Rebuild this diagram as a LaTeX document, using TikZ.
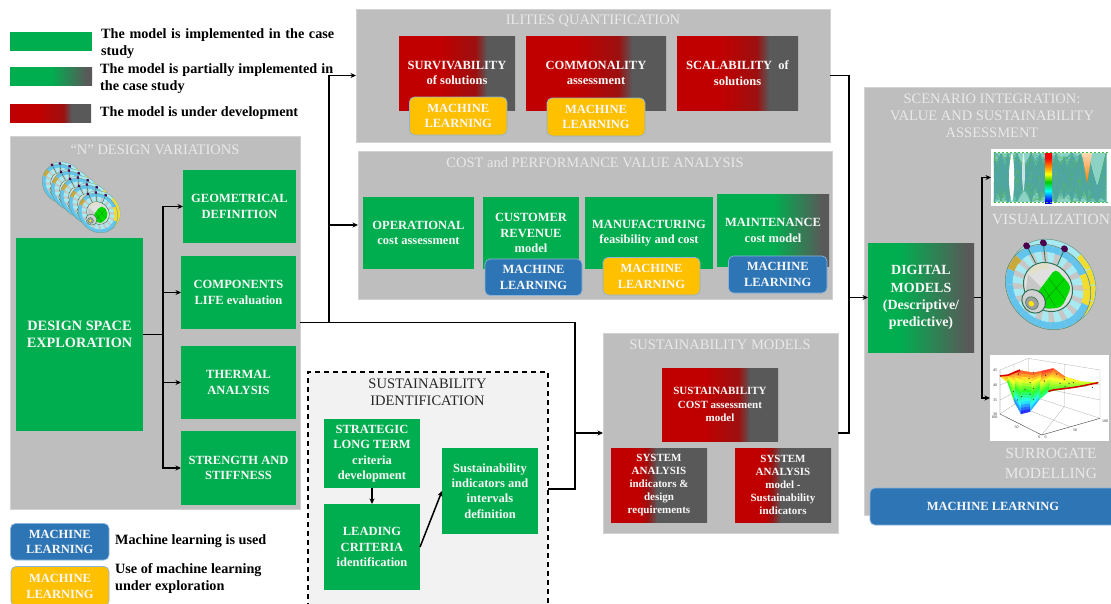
\documentclass[tikz,border=0pt]{standalone}
\usepackage{fontspec}
\setmainfont{Liberation Serif}
\usetikzlibrary{arrows.meta}
\definecolor{bgreen}{HTML}{00AE4F}
\definecolor{bred}{HTML}{C00000}
\definecolor{bdark}{HTML}{9C1010}
\definecolor{bgrey}{HTML}{595959}
\definecolor{bblue}{HTML}{2E75B6}
\definecolor{byellow}{HTML}{FFC000}
\definecolor{panelc}{HTML}{BEBEBE}
\definecolor{panelb}{HTML}{D2D2D2}
\definecolor{soft}{HTML}{F7F7F7}
\definecolor{titlec}{HTML}{E9E9E9}
\definecolor{wdark}{HTML}{2F6F50}
\definecolor{wband}{HTML}{62C4EC}
\definecolor{wspoke}{HTML}{A8EAF2}
\definecolor{wyel}{HTML}{F2DC2E}
\definecolor{wbrown}{HTML}{C9A93A}
\definecolor{pcA}{HTML}{3FB5A0}
\definecolor{pcB}{HTML}{5DB45A}
\definecolor{pcC}{HTML}{4FA6A8}
\pgfdeclarehorizontalshading{redlong}{100bp}{color(0bp)=(bred);color(25bp)=(bred);color(43bp)=(bred);color(58bp)=(bdark);color(63bp)=(bgrey);color(100bp)=(bgrey)}
\pgfdeclarehorizontalshading{redshort}{100bp}{color(0bp)=(bred);color(25bp)=(bred);color(40bp)=(bred);color(44bp)=(bdark);color(49bp)=(bgrey);color(100bp)=(bgrey)}
\pgfdeclarehorizontalshading{greenlong}{100bp}{color(0bp)=(bgreen);color(25bp)=(bgreen);color(50bp)=(bgreen);color(72bp)=(bgrey);color(100bp)=(bgrey)}
\pgfdeclarehorizontalshading{greendeep}{100bp}{color(0bp)=(bgreen);color(25bp)=(bgreen);color(40bp)=(bgreen);color(72bp)=(bgrey);color(100bp)=(bgrey)}
\pgfdeclareverticalshading{rainbowbar}{100bp}{color(0bp)=(blue);color(27bp)=(blue);color(37bp)=(cyan);color(46bp)=(green!80!black);color(54bp)=(yellow);color(62bp)=(orange);color(70bp)=(red);color(100bp)=(red)}
\tikzset{
  panel/.style={fill=panelc,draw=panelb,line width=.6pt,inner sep=0pt,outer sep=0pt},
  boxbase/.style={inner sep=0pt,outer sep=0pt,align=center,text=soft,font=\bfseries\fontsize{12.5}{15.4}\selectfont},
  gbox/.style={boxbase,fill=bgreen},
  gpart/.style={boxbase,shade,shading=greenlong},
  gdeep/.style={boxbase,shade,shading=greendeep},
  rlong/.style={boxbase,shade,shading=redlong},
  rshort/.style={boxbase,shade,shading=redshort,font=\bfseries\fontsize{11}{13}\selectfont},
  mlbase/.style={boxbase,rounded corners=5pt,draw=bblue!55!white,line width=.7pt},
  mlblue/.style={mlbase,fill=bblue},
  mlyellow/.style={mlbase,fill=byellow},
  ptitle/.style={text=titlec,align=center,inner sep=0pt,font=\fontsize{14.5}{17}\selectfont},
  legend/.style={anchor=west,inner sep=0pt,align=justify,text width=233pt,font=\bfseries\fontsize{14.2}{17.5}\selectfont},
  legendl/.style={anchor=west,inner sep=0pt,align=left,font=\bfseries\fontsize{14.2}{17}\selectfont},
  conn/.style={line width=1.5pt,draw=black},
  arr/.style={conn,-{Stealth[length=5.5pt,width=5pt]}},
  tick/.style={inner sep=0pt,font=\fontsize{4}{4}\selectfont,text=black!80},
}
\newcommand\bx[7]{%
  \pgfmathsetmacro\bcx{(#3+#5)/2}\pgfmathsetmacro\bcy{(#4+#6)/2}%
  \pgfmathsetmacro\bw{#5-#3}\pgfmathsetmacro\bh{#6-#4}%
  \node[#1,minimum width=\bw pt,minimum height=\bh pt] (#2) at (\bcx,\bcy) {#7};}
\newcommand\wedgeq[5]{\fill[#1] (#2:#4) -- (#3:#4) -- (#3:#5) -- (#2:#5) -- cycle;}
\newcommand\wheelart[4]{%
\begin{scope}[shift={(#1,#2)},scale=#3,rotate=-45,yscale=.87,line width=#4]
  \draw[wdark!70!white,fill=wspoke] (0,-7) circle (48);
  \begin{scope}[shift={(0,-7)}]
  \foreach \a in {270,292.5,315,337.5}{\pgfmathsetmacro\e{\a+21}\wedgeq{wyel}{\a}{\e}{42}{48}}
  \end{scope}
  \fill[black!22] (0,0) circle (47);
  \foreach \a in {0,22.5,...,345}{%
    \pgfmathsetmacro\e{\a+22}%
    \pgfmathtruncatemacro\kind{(\a>=280&&\a<=330)?1:((\a>=150&&\a<=175)?2:0)}%
    \ifnum\kind=1 \wedgeq{wyel}{\a}{\e}{39}{47}\fi
    \ifnum\kind=2 \wedgeq{wbrown}{\a}{\e}{39}{47}\fi
    \ifnum\kind=0 \wedgeq{wband}{\a}{\e}{39}{47}\fi
    \pgfmathsetmacro\sa{\a+3}\pgfmathsetmacro\se{\a+15}%
    \wedgeq{wspoke}{\sa}{\se}{27}{39}
  }
  \draw[wdark!80!white] (0,0) circle (47);
  \foreach \a in {200,223,251}{\fill[violet!60!black] (\a:48.5) circle (3.8);\draw[wdark,line width=1.5*#4] (\a:45) -- (\a:28);}
  \fill[black!12] (0,0) circle (27);
  \draw[wdark,line width=1.8*#4] (0,0) circle (27);
  \foreach \a in {172,186,200,214}{\pgfmathsetmacro\e{\a+15}\wedgeq{yellow!45!black!25!white}{\a}{\e}{20}{26}}
  \fill[black!22!white] (-24,6) -- (24,6) -- (12,24) -- (-12,24) -- cycle;
  \fill[green!85!black,rounded corners=5pt] (-3,18) -- (-8,-22) -- (17,-20) -- (25,6) -- (13,22) -- cycle;
  \draw[green!45!black,line width=.4*#4] (-6,-8) -- (22,-4) (-4,4) -- (19,10) (6,-21) -- (8,18);
  \fill[black!18] (0,24) circle (13);
  \draw[wdark,line width=1.8*#4] (0,24) circle (13);
  \fill[black!38] (0,27) circle (7);
  \fill[yellow!90!orange] (0,28) circle (3);
  \draw[wdark] (0,27) circle (7);
\end{scope}}
\begin{document}
\begin{tikzpicture}[x=1pt,y=-1pt]
\fill[white] (0,0) rectangle (1111,603);
\clip (0,0) rectangle (1111,603);
% legend
\bx{gbox}{lgreen}{10}{32}{92}{51}{}
\bx{gpart}{lpart}{10}{67}{92}{85}{}
\bx{rlong}{lred}{10}{104}{91}{122}{}
\node[legend] (lt1) at (101,43.5) {The model is implemented in the case study};
\node[legend] (lt2) at (100,78.5) {The model is partially implemented in the case study};
\node[legendl] (lt3) at (100,113) {The model is under development};
% N design panel
\bx{panel}{npanel}{10}{136}{300}{509}{}
\node[ptitle] (nt) at (155,149.5) {“N” DESIGN VARIATIONS};
\foreach \wx/\wy in {62/184,71/191,80/198,89/205,98/213}{\wheelart{\wx}{\wy}{.45}{.25pt}}
\bx{gbox,font=\bfseries\fontsize{14.3}{17}\selectfont}{dse}{16}{238}{143}{431}{DESIGN SPACE\\EXPLORATION}
\bx{gbox}{geo}{183}{170}{296}{243}{GEOMETRICAL\\DEFINITION}
\bx{gbox}{comp}{181}{256}{296}{329}{COMPONENTS\\LIFE evaluation}
\bx{gbox}{therm}{181}{346}{296}{419}{THERMAL\\ANALYSIS}
\bx{gbox}{stren}{181}{431}{296}{505}{STRENGTH AND\\STIFFNESS}
% bottom legend
\bx{mlblue}{lml1}{10.5}{523.5}{109}{560}{MACHINE\\LEARNING}
\bx{mlyellow}{lml2}{11}{566.5}{109}{606}{MACHINE\\LEARNING}
\node[legendl] (lt4) at (115,541.5) {Machine learning is used};
\node[legendl] (lt5) at (115,579) {Use of machine learning\\under exploration};
% ilities
\bx{panel}{ilities}{356}{9}{830}{142}{}
\node[ptitle] (ilt) at (593,21) {ILITIES QUANTIFICATION};
\bx{rlong}{surv}{399}{36}{515}{110}{SURVIVABILITY\\of solutions}
\bx{rlong}{commo}{526}{36}{666}{110}{COMMONALITY\\assessment}
\bx{rlong}{scal}{677}{36}{798}{110}{SCALABILITY\ \ of\\solutions}
\bx{mlyellow}{mlA}{409.5}{97}{507}{135}{MACHINE\\LEARNING}
\bx{mlyellow}{mlB}{547}{98}{645}{136}{MACHINE\\LEARNING}
% cost
\bx{panel}{cost}{358}{151}{832}{299}{}
\node[ptitle] (ct) at (595,163) {COST and PERFORMANCE VALUE ANALYSIS};
\bx{gbox}{oper}{363}{197}{474}{269}{OPERATIONAL\\cost assessment}
\bx{gbox}{cust}{483}{197}{579}{269}{CUSTOMER\\REVENUE\\model}
\bx{gbox}{manu}{585}{197}{713}{269}{MANUFACTURING\\feasibility and cost}
\bx{gpart}{main}{717}{194}{829}{266.5}{MAINTENANCE\\cost model}
\bx{mlblue}{mlC}{485}{259}{582}{295.5}{MACHINE\\LEARNING}
\bx{mlyellow}{mlD}{603}{257.5}{700}{295}{MACHINE\\LEARNING}
\bx{mlblue}{mlE}{728.5}{256}{827}{293}{MACHINE\\LEARNING}
% dashed identification
\bx{fill=black!5,draw=black,dash pattern=on 5pt off 4pt,line width=1.2pt,inner sep=0pt,outer sep=0pt}{ident}{308}{372}{548}{606}{}
\node[ptitle,text=black!85] (idt) at (427.5,392.5) {SUSTAINABILITY\\IDENTIFICATION};
\bx{gbox}{strat}{324}{419}{420}{488}{STRATEGIC\\LONG TERM\\criteria\\development}
\bx{gbox}{lead}{324}{504}{420}{590}{LEADING\\CRITERIA\\identification}
\bx{gbox}{indic}{442}{448}{538}{534}{Sustainability\\indicators and\\intervals\\definition}
\draw[arr] (strat) -- (lead);
\draw[arr] (lead.east) -- (indic.west);
% sustainability models
\bx{panel}{sust}{603}{333}{838}{533}{}
\node[ptitle] (st) at (720,345) {SUSTAINABILITY MODELS};
\bx{rlong,font=\bfseries\fontsize{11}{13.4}\selectfont}{scost}{662}{368}{778}{441}{SUSTAINABILITY\\COST assessment\\model}
\bx{rshort}{sysa}{611}{448}{707}{522}{SYSTEM\\ANALYSIS\\indicators \&\\design\\requirements}
\bx{rshort}{sysb}{735}{448}{831}{522}{SYSTEM\\ANALYSIS\\model -\\Sustainability\\indicators}
% scenario
\bx{panel}{scen}{864}{87}{1125}{515}{}
\node[ptitle] (sct) at (992,116) {SCENARIO INTEGRATION:\\VALUE AND SUSTAINABILITY\\ASSESSMENT};
\bx{gdeep,font=\bfseries\fontsize{14}{17.3}\selectfont}{digi}{868}{243}{974}{352}{DIGITAL\\MODELS\\(Descriptive/\\predictive)}
\bx{fill=white,inner sep=0pt,outer sep=0pt}{visimg}{991}{149}{1111}{206}{}
\bx{fill=white,inner sep=0pt,outer sep=0pt}{surimg}{990}{355}{1109}{441}{}
\node[ptitle,font=\fontsize{15.5}{20}\selectfont] (vist) at (1051,219) {VISUALIZATION};
\node[ptitle,font=\fontsize{15.5}{20}\selectfont] (surt) at (1051,463) {SURROGATE\\MODELLING};
\bx{mlblue}{mlF}{870}{488}{1116}{525}{MACHINE LEARNING}
% parallel coordinates plot
\pgfmathsetseed{42}
\begin{scope}
  \clip (993,151) rectangle (1109,204);
  \fill[pcA!60!white] (994,153) rectangle (1107,202);
  \foreach \col in {pcA,pcB,pcC}{
    \foreach \k in {1,...,75}{
      \draw[line width=.35pt,\col,opacity=.7] (994,{177.5+25*rand})
        \foreach \ax/\hh/\off in {1001/24/0,1008/25/0,1017/25/0,1024/14/0,1031/25/0,1040/24/0,1047/25/0,1056/25/0,1064/22/0,1072/25/0,1080/24/0,1088/25/0,1097/8/17,1106/25/0}{ -- (\ax,{177.5+\hh*rand+\off})};
    }
  }
  \fill[white] (1012,152) .. controls (1015,165) and (1015,190) .. (1012,203) .. controls (1008,190) and (1008,165) .. (1012,152) -- cycle;
  \fill[white,opacity=.7] (1023.5,152) .. controls (1025.5,165) and (1025.5,180) .. (1023.5,192) .. controls (1021.5,180) and (1021.5,165) .. (1023.5,152) -- cycle;
  \path[shade,shading=rainbowbar] (1045,153) rectangle (1052,203);
  \path[top color=orange!30!white,bottom color=orange] (1082,153) -- (1092,153) -- (1087,183) -- cycle;
  \draw[line width=1.5pt,green!50!gray,dash pattern=on 2pt off 2pt] (994,152.5) -- (1108,152.5) (994,202.5) -- (1108,202.5);
\end{scope}
% large wheel
\wheelart{1048}{287}{.97}{.55pt}
% surrogate surface plot
\begin{scope}[shift={(985,350)},scale=1/3]
  \draw[black!30,line width=.3pt] (45,60) -- (130,25) -- (345,60) -- (345,205) (130,25) -- (130,135) -- (45,192) (130,135) -- (345,205)
    (87,43) -- (87,163) (238,43) -- (238,170) (87,163) -- (255,230) (238,170) -- (170,255) (45,105) -- (130,70) -- (345,105) (45,150) -- (130,105) -- (345,150);
  \foreach \xa/\ya/\xb/\yb/\xc/\yc/\xd/\yd in {45/78/45/78/70/75/68/98,70/75/68/98/92/63/88/155,92/63/88/155/110/62/108/192,110/62/108/192/145/68/135/185,145/68/135/185/170/63/162/150,170/63/162/150/205/55/190/125,205/55/190/125/240/80/250/115,240/80/250/115/290/95/300/108,290/95/300/108/340/97/340/98}{
    \foreach \r in {0,...,13}{
      \pgfmathsetmacro\u{\r/14}\pgfmathsetmacro\v{(\r+1)/14}%
      \pgfmathsetmacro\my{(\ya+\yc)/2+((\yb+\yd)/2-(\ya+\yc)/2)*(\u+\v)/2}%
      \pgfmathsetmacro\hu{max(0,min(1,(\my-60)/135))*.72*6}%
      \pgfmathsetmacro\cr{.15+.85*max(0,min(1,abs(\hu-3)-1))}%
      \pgfmathsetmacro\cg{.15+.85*max(0,min(1,2-abs(\hu-2)))}%
      \pgfmathsetmacro\cb{.15+.85*max(0,min(1,2-abs(\hu-4)))}%
      \definecolor{surfc}{rgb}{\cr,\cg,\cb}%
      \path[fill=surfc,draw=surfc,line width=.2pt]
        ({\xa+(\xb-\xa)*\u},{\ya+(\yb-\ya)*\u}) -- ({\xa+(\xb-\xa)*\v},{\ya+(\yb-\ya)*\v})
        -- ({\xc+(\xd-\xc)*\v},{\yc+(\yd-\yc)*\v}) -- ({\xc+(\xd-\xc)*\u},{\yc+(\yd-\yc)*\u}) -- cycle;
    }
  }
  \draw[red!85!black,line width=1.5pt] (45,78) -- (70,75) -- (105,60) (190,125) .. controls (200,117) and (240,118) .. (290,108) -- (340,98);
  \foreach \px/\py in {100/72,132/85,145/68,182/76,215/72,135/98,85/125,120/118,145/115,178/93,97/150,110/140,135/133,145/148,225/100,238/88,252/100,265/98,240/110,300/108,322/112}{\fill[black!75] (\px,\py) circle (2);}
  \draw[black!75,line width=.4pt] (45,60) -- (45,192) -- (170,255) -- (345,205);
  \foreach \n/\tx/\lx/\ly in {1/45/30/62,2/40/30/105,3/35/30/150,4/30/30/193,5/100/28/202,6/50/95/232,7/0/163/262,8/0/182/262,9/50/270/240,10/100/360/215}{\node[tick] (tk\n) at (\lx,\ly) {\tx};}
\end{scope}
% connectors in N panel
\coordinate (ta) at (163,334.5);
\draw[conn] (dse.east) -- (ta);
\draw[arr] (ta) |- (geo.west);
\draw[arr] (ta) |- (comp.west);
\draw[arr] (ta) |- (therm.west);
\draw[arr] (ta) |- (stren.west);
% main connectors
\coordinate (jb) at (329,322.5);
\coordinate (jc) at (575,322.5);
\coordinate (jd) at (575,433);
\draw[conn] (npanel.east) -- (jc) -- (jd);
\draw[arr] (jb) |- (ilities.west);
\draw[arr] (jb) |- (cost.west);
\draw[arr] (jd) -- (sust.west);
\draw[conn] (ident.east) -| (jd);
\coordinate (jr) at (849,297.5);
\draw[conn] (ilities.east) -| (jr);
\draw[conn] (sust.east) -| (jr);
\draw[arr] (jr) -- (digi.west);
\coordinate (te) at (982,297.5);
\draw[conn] (digi.east) -- (te);
\draw[arr] (te) |- (visimg.west);
\draw[arr] (te) |- (surimg.west);
\end{tikzpicture}
\end{document}
